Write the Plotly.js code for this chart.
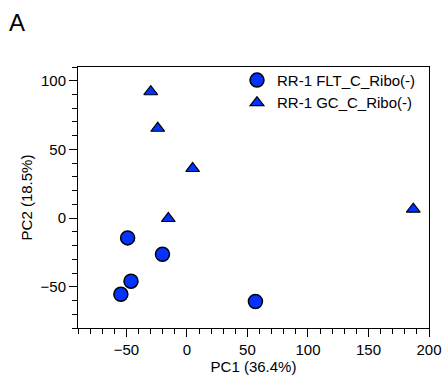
<!DOCTYPE html>
<html>
<head>
<meta charset="utf-8">
<script src="https://cdn.plot.ly/plotly-3.0.1.min.js"></script>
<style>
  html, body { margin: 0; padding: 0; background: #fff; }
  #chart { width: 442px; height: 376px; }
</style>
</head>
<body>
<div id="chart"></div>
<script>
// PCA scores, RR-1 Ribo(-) samples
const seriesNames = ["RR-1 FLT_C_Ribo(-)", "RR-1 GC_C_Ribo(-)"];

const fltPC1 = [-49.0, -20.2, -46.2, -54.6, 56.6];
const fltPC2 = [-14.4, -26.3, -45.9, -55.5, -60.7];

const gcPC1 = [-29.9, -24.1, 4.7, -15.4, 187.0];
const gcPC2 = [92.0, 65.4, 36.1, -0.3, 6.5];

const xTitle = "PC1 (36.4%)";
const yTitle = "PC2 (18.5%)";
const panelLabel = "A";

const FONT = "'Liberation Sans', Arial, Helvetica, sans-serif";
const FS = 15;
const BLUE = "#0433ff";

const traces = [
  {
    type: "scatter", mode: "markers", name: seriesNames[0],
    x: fltPC1, y: fltPC2,
    marker: { symbol: "circle", size: 14, color: BLUE, line: { color: "#000", width: 1.5 } },
    cliponaxis: false
  },
  {
    type: "scatter", mode: "markers", name: seriesNames[1],
    x: gcPC1, y: gcPC2,
    marker: { symbol: "triangle-up", size: 12, color: BLUE, line: { color: "#000", width: 1.2 } },
    cliponaxis: false
  }
];

const axisCommon = {
  showgrid: false, zeroline: false,
  showline: true, mirror: true, linecolor: "#000", linewidth: 1,
  ticks: "outside", ticklen: 8, tickwidth: 1, tickcolor: "#000",
  tickfont: { family: FONT, size: FS, color: "#000" },
  tick0: 0, dtick: 50,
  minor: { ticks: "outside", dtick: 10, ticklen: 5, tickwidth: 1, tickcolor: "#000" },
  fixedrange: true
};

const layout = {
  width: 442, height: 376,
  margin: { l: 78, r: 13, t: 67, b: 48 },
  paper_bgcolor: "#fff", plot_bgcolor: "#fff",
  font: { family: FONT, size: FS, color: "#000" },
  xaxis: Object.assign({}, axisCommon, {
    range: [-90, 200],
    tickformat: "d",
    title: { text: xTitle, font: { family: FONT, size: FS, color: "#000" }, standoff: 2 }
  }),
  yaxis: Object.assign({}, axisCommon, {
    range: [-80, 110],
    title: { text: yTitle, font: { family: FONT, size: FS, color: "#000" }, standoff: 4 }
  }),
  showlegend: true,
  legend: {
    x: 0.453, xanchor: "left", y: 1.012, yanchor: "top",
    bgcolor: "rgba(0,0,0,0)", borderwidth: 0,
    font: { family: FONT, size: FS, color: "#000" },
    tracegroupgap: 0
  },
  annotations: [
    {
      text: panelLabel, xref: "paper", yref: "paper",
      x: -0.202, y: 1.172, xanchor: "left", yanchor: "middle",
      showarrow: false, font: { family: FONT, size: 24, color: "#000" }
    }
  ]
};

Plotly.newPlot("chart", traces, layout, { staticPlot: true, displayModeBar: false });
</script>
</body>
</html>
